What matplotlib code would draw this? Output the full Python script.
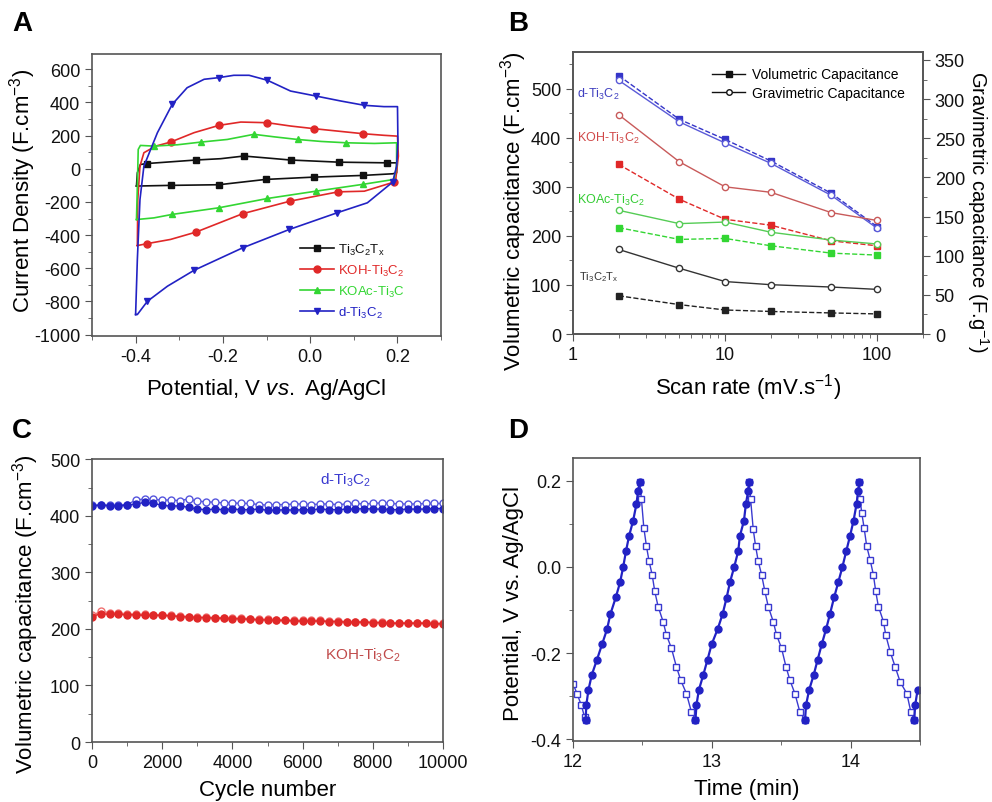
import numpy as np
import matplotlib
matplotlib.use('Agg')
import matplotlib.pyplot as plt

plt.rcParams['font.family'] = ['Liberation Sans', 'DejaVu Sans']
plt.rcParams['mathtext.fontset'] = 'custom'
plt.rcParams['mathtext.rm'] = 'Liberation Sans'
plt.rcParams['mathtext.it'] = 'Liberation Sans:italic'
plt.rcParams['mathtext.default'] = 'regular'
plt.rcParams['axes.unicode_minus'] = False

# ---------- panel A : CV loops (potential V, current density) ----------
cv_black_v = [-0.398, -0.396, -0.389, -0.373, -0.262, -0.205, -0.152, -0.098, -0.045, 0.066, 0.177, 0.198,
              0.198, 0.189, 0.120, 0.009, -0.102, -0.209, -0.320, -0.398]
cv_black_i = [-104, -24, 26, 32, 53, 61, 77, 65, 53, 40, 36, 36,
              -24, -30, -40, -50, -64, -96, -100, -104]
cv_black_mk = [3, 4, 6, 8, 9, 10, 14, 15, 16, 17, 18]

cv_red_v = [-0.396, -0.395, -0.390, -0.381, -0.354, -0.320, -0.266, -0.209, -0.159, -0.098, -0.045, 0.009,
            0.120, 0.169, 0.200, 0.202, 0.196, 0.192, 0.124, 0.064, -0.046, -0.155, -0.262, -0.320, -0.373, -0.396]
cv_red_i = [-463, -185, 16, 97, 137, 161, 218, 262, 282, 278, 258, 242,
            212, 202, 197, 77, -64, -80, -135, -139, -195, -271, -382, -426, -451, -463]
cv_red_mk = [5, 7, 9, 11, 12, 17, 19, 20, 21, 22, 24]

cv_green_v = [-0.398, -0.396, -0.394, -0.389, -0.358, -0.304, -0.251, -0.190, -0.129, -0.083, -0.029, 0.025,
              0.082, 0.147, 0.198, 0.198, 0.192, 0.120, 0.013, -0.098, -0.209, -0.316, -0.358, -0.398]
cv_green_i = [-306, -104, 117, 141, 137, 145, 161, 177, 208, 193, 177, 165,
              157, 153, 157, 16, -64, -94, -135, -179, -235, -275, -296, -306]
cv_green_mk = [4, 6, 8, 10, 12, 17, 18, 19, 20, 21]

cv_blue_v = [-0.400, -0.396, -0.390, -0.381, -0.350, -0.316, -0.282, -0.243, -0.209, -0.175, -0.140, -0.098,
             -0.045, 0.013, 0.070, 0.124, 0.169, 0.200, 0.201, 0.198, 0.189, 0.131, 0.062, -0.048, -0.155,
             -0.266, -0.327, -0.373, -0.396, -0.400]
cv_blue_i = [-879, -547, -185, 16, 218, 389, 489, 540, 550, 564, 564, 534,
             469, 439, 409, 383, 375, 375, 157, 16, -80, -205, -265, -366, -477,
             -612, -708, -799, -879, -879]
cv_blue_mk = [5, 8, 11, 13, 15, 20, 22, 23, 24, 25, 27]

# ---------- panel B : capacitance vs scan rate ----------
scan_rate = [2, 5, 10, 20, 50, 100]
vol_d = [527, 438, 397, 353, 287, 219]
vol_koh = [346, 275, 234, 222, 190, 180]
vol_koac = [217, 193, 195, 180, 165, 161]
vol_tx = [78, 60, 49, 46, 43, 41]
grav_d = [324, 271, 244, 218, 177, 135]
grav_koh = [280, 220, 188, 181, 155, 145]
grav_koac = [158, 141, 143, 130, 120, 115]
grav_tx = [108, 84, 67, 63, 60, 57]

# ---------- panel C : cycling ----------
cycles = [0, 250, 500, 750, 1000, 1250, 1500, 1750, 2000, 2250, 2500, 2750, 3000, 3250, 3500, 3750,
          4000, 4250, 4500, 4750, 5000, 5250, 5500, 5750, 6000, 6250, 6500, 6750, 7000, 7250, 7500,
          7750, 8000, 8250, 8500, 8750, 9000, 9250, 9500, 9750, 10000]
cyc_d_fill = [418, 419, 418, 418, 419, 421, 424, 422, 419, 417, 418, 415, 412, 411, 412, 411,
              412, 411, 411, 412, 410, 410, 411, 410, 411, 411, 412, 411, 411, 412, 412,
              413, 412, 412, 411, 411, 412, 412, 412, 413, 413]
cyc_d_open = [419, 419, 419, 419, 420, 428, 430, 429, 428, 428, 427, 430, 426, 425, 424, 423,
              423, 422, 422, 420, 419, 420, 420, 421, 421, 420, 421, 421, 420, 421, 422,
              421, 422, 423, 422, 421, 421, 421, 422, 422, 422]
cyc_koh_fill = [222, 227, 226, 226, 225, 225, 224, 224, 224, 223, 222, 221, 220, 220, 219, 219,
                218, 218, 217, 216, 216, 215, 215, 214, 214, 214, 214, 213, 213, 212, 212,
                212, 211, 211, 210, 210, 210, 210, 210, 209, 209]
cyc_koh_open = [224, 231, 229, 228, 227, 226, 226, 225, 225, 224, 223, 222, 221, 221, 220, 220,
                219, 219, 218, 217, 217, 216, 216, 215, 215, 215, 215, 214, 214, 213, 213,
                213, 212, 212, 211, 211, 211, 211, 211, 210, 210]

# ---------- panel D : galvanostatic charge / discharge ----------
chg_t = [12.091, 12.096, 12.111, 12.135, 12.173, 12.209, 12.245, 12.269, 12.308, 12.339, 12.361, 12.382,
         12.404, 12.433, 12.457, 12.469, 12.481, np.nan,
         12.882, 12.889, 12.906, 12.938, 12.969, 12.998, 13.041, 13.077, 13.106, 13.130, 13.161, 13.190,
         13.202, 13.231, 13.245, 13.262, 13.266, np.nan,
         13.671, 13.678, 13.700, 13.733, 13.762, 13.791, 13.822, 13.850, 13.880, 13.910, 13.940, 13.968,
         13.995, 14.020, 14.042, 14.053, 14.061, np.nan,
         14.457, 14.464, 14.481]
chg_v = [-0.355, -0.321, -0.286, -0.251, -0.215, -0.180, -0.145, -0.110, -0.071, -0.036, -0.001, 0.037,
         0.072, 0.107, 0.146, 0.177, 0.196, np.nan,
         -0.355, -0.321, -0.286, -0.251, -0.215, -0.180, -0.145, -0.110, -0.072, -0.036, 0.000, 0.037,
         0.072, 0.107, 0.146, 0.177, 0.196, np.nan,
         -0.355, -0.321, -0.286, -0.251, -0.215, -0.180, -0.145, -0.110, -0.071, -0.036, 0.000, 0.037,
         0.072, 0.107, 0.146, 0.177, 0.196, np.nan,
         -0.355, -0.321, -0.286]
dis_t = [12.000, 12.029, 12.060, 12.084, 12.091, np.nan,
         12.481, 12.493, 12.510, 12.529, 12.548, 12.570, 12.589, 12.613, 12.649, 12.673, 12.709, 12.745,
         12.776, 12.817, 12.853, 12.882, np.nan,
         13.269, 13.279, 13.298, 13.315, 13.334, 13.358, 13.382, 13.406, 13.442, 13.466, 13.502, 13.534,
         13.562, 13.598, 13.634, 13.671, np.nan,
         14.063, 14.067, 14.079, 14.096, 14.115, 14.139, 14.163, 14.180, 14.199, 14.236, 14.252, 14.284,
         14.320, 14.356, 14.404, 14.433, 14.457]
dis_v = [-0.271, -0.294, -0.321, -0.349, -0.355, np.nan,
         0.196, 0.157, 0.091, 0.048, 0.013, -0.018, -0.057, -0.092, -0.127, -0.158, -0.189, -0.232,
         -0.263, -0.294, -0.337, -0.355, np.nan,
         0.196, 0.157, 0.087, 0.048, 0.013, -0.018, -0.057, -0.092, -0.127, -0.158, -0.189, -0.232,
         -0.263, -0.294, -0.337, -0.355, np.nan,
         0.196, 0.157, 0.126, 0.091, 0.048, 0.017, -0.018, -0.057, -0.092, -0.127, -0.158, -0.197,
         -0.232, -0.267, -0.294, -0.337, -0.355]

BLACK = '#111111'
RED = '#e02828'
GREEN = '#33d633'
BLUE = '#2222c4'
SPINE = '#555555'
TICK_FS = 13
LAB_FS = 16


def style(ax):
    for s in ax.spines.values():
        s.set_color(SPINE)
        s.set_linewidth(1.2)
    ax.tick_params(which='both', direction='out', colors=SPINE, labelcolor='#111111',
                   labelsize=TICK_FS)
    ax.tick_params(which='major', length=5)
    ax.tick_params(which='minor', length=3)


def place_ylabel(ax, x, y=0.5):
    # label centred at (x, y) in axes fraction
    ax.yaxis.set_label_coords(x, y)
    ax.yaxis.label.set_va('center')
    ax.yaxis.label.set_ha('center')


fig = plt.figure(figsize=(9.92, 8.03), dpi=100)

# ---------------- A ----------------
axA = fig.add_axes([0.0927, 0.580, 0.352, 0.351])
curves = [
    (cv_black_v, cv_black_i, cv_black_mk, BLACK, 's', 'Ti$_3$C$_2$T$_x$'),
    (cv_red_v, cv_red_i, cv_red_mk, RED, 'o', 'KOH-Ti$_3$C$_2$'),
    (cv_green_v, cv_green_i, cv_green_mk, GREEN, '^', 'KOAc-Ti$_3$C'),
    (cv_blue_v, cv_blue_i, cv_blue_mk, BLUE, 'v', 'd-Ti$_3$C$_2$'),
]
for v, i, mk, col, m, lab in curves:
    axA.plot(v, i, color=col, lw=1.2, marker=m, markevery=mk, ms=5, label=lab)
axA.set_xlim(-0.5, 0.3)
axA.set_ylim(-1010, 690)
axA.set_xticks([-0.4, -0.2, 0.0, 0.2])
axA.set_xticks([-0.5, -0.3, -0.1, 0.1, 0.3], minor=True)
axA.set_yticks(range(-1000, 601, 200))
axA.set_yticks(range(-900, 700, 200), minor=True)
axA.xaxis.set_major_formatter(matplotlib.ticker.FormatStrFormatter('%.1f'))
style(axA)
axA.set_xlabel('Potential, V $\\mathit{vs.}$ Ag/AgCl', fontsize=LAB_FS, labelpad=8)
axA.set_ylabel('Current Density (F.cm$^{-3}$)', fontsize=LAB_FS)
place_ylabel(axA, -0.198, 0.52)
legA = axA.legend(loc='lower right', bbox_to_anchor=(0.93, 0.015), frameon=False, fontsize=9.5,
                  handlelength=2.6, labelspacing=0.45, handletextpad=0.3)
for t, c in zip(legA.get_texts(), [BLACK, RED, GREEN, BLUE]):
    t.set_color(c)

# ---------------- B ----------------
axB = fig.add_axes([0.5776, 0.5828, 0.3528, 0.351])
axB2 = axB.twinx()
b_series = [
    (vol_d, grav_d, '#3535c8', '#5a5ad8'),
    (vol_koh, grav_koh, '#e02828', '#c85a5a'),
    (vol_koac, grav_koac, '#33d633', '#55cc55'),
    (vol_tx, grav_tx, '#222222', '#333333'),
]
for vol, grav, cf, co in b_series:
    axB.plot(scan_rate, vol, color=cf, lw=1.0, ls='--', marker='s', ms=5)
    axB2.plot(scan_rate, grav, color=co, lw=1.0, marker='o', ms=4.5, mfc='white')
axB.set_xscale('log')
axB.set_xlim(1, 200)
axB.set_ylim(0, 575)
axB2.set_ylim(0, 360)
axB.set_xticks([1, 10, 100])
axB.set_xticklabels(['1', '10', '100'])
axB.set_yticks(range(0, 501, 100))
axB.set_yticks(range(50, 551, 100), minor=True)
axB2.set_yticks(range(0, 351, 50))
axB2.set_yticks(range(25, 351, 50), minor=True)
style(axB)
style(axB2)
axB.set_xlabel('Scan rate (mV.s$^{-1}$)', fontsize=LAB_FS, labelpad=6)
axB.set_ylabel('Volumetric capacitance (F.cm$^{-3}$)', fontsize=LAB_FS)
place_ylabel(axB, -0.17, 0.44)
axB2.set_ylabel('Gravimetric capacitance (F.g$^{-1}$)', fontsize=14.5, rotation=270)
place_ylabel(axB2, 1.158, 0.437)
axB.text(1.07, 490, 'd-Ti$_3$C$_2$', color='#4040c0', fontsize=9, va='center')
axB.text(1.07, 400, 'KOH-Ti$_3$C$_2$', color='#d04848', fontsize=9, va='center')
axB.text(1.07, 275, 'KOAc-Ti$_3$C$_2$', color='#33cc33', fontsize=9, va='center')
axB.text(1.1, 118, 'Ti$_3$C$_2$T$_x$', color='#333333', fontsize=8, va='center')
hv, = axB.plot([], [], color='#111111', lw=1.0, marker='s', ms=4)
hg, = axB.plot([], [], color='#111111', lw=1.0, marker='o', ms=4, mfc='white')
axB.legend([hv, hg], ['Volumetric Capacitance', 'Gravimetric Capacitance'], loc='upper right',
           bbox_to_anchor=(0.985, 0.99), frameon=False, fontsize=10, handlelength=2.4,
           labelspacing=0.35, handletextpad=0.5)

# ---------------- C ----------------
axC = fig.add_axes([0.0927, 0.0747, 0.354, 0.352])
axC.plot(cycles, cyc_d_open, color='#5555dd', lw=1.0, marker='o', ms=5, mfc='white', mew=1.0)
axC.plot(cycles, cyc_d_fill, color=BLUE, lw=1.0, marker='o', ms=5)
axC.plot(cycles, cyc_koh_open, color='#f07070', lw=1.0, marker='o', ms=5, mfc='white', mew=1.0)
axC.plot(cycles, cyc_koh_fill, color=RED, lw=1.0, marker='o', ms=5)
axC.set_xlim(0, 10000)
axC.set_ylim(0, 500)
axC.set_xticks(range(0, 10001, 2000))
axC.set_xticks(range(1000, 10000, 2000), minor=True)
axC.set_yticks(range(0, 501, 100))
axC.set_yticks(range(50, 500, 100), minor=True)
style(axC)
axC.set_xlabel('Cycle number', fontsize=LAB_FS, labelpad=6)
axC.set_ylabel('Volumetric capacitance (F.cm$^{-3}$)', fontsize=LAB_FS)
place_ylabel(axC, -0.19, 0.455)
axC.text(6500, 465, 'd-Ti$_3$C$_2$', color='#3a3ad0', fontsize=11, va='center')
axC.text(6650, 155, 'KOH-Ti$_3$C$_2$', color='#c04a4a', fontsize=11, va='center')

# ---------------- D ----------------
axD = fig.add_axes([0.5776, 0.076, 0.35, 0.352])
axD.plot(dis_t, dis_v, color='#3a3ad0', lw=1.0, marker='s', ms=4, mfc='white', mew=1.0)
axD.plot(chg_t, chg_v, color=BLUE, lw=1.6, marker='o', ms=5)
axD.set_xlim(12, 14.5)
axD.set_ylim(-0.404, 0.252)
axD.set_xticks([12, 13, 14])
axD.set_xticks([12.5, 13.5, 14.5], minor=True)
axD.set_yticks([-0.4, -0.2, 0.0, 0.2])
axD.set_yticks([-0.3, -0.1, 0.1], minor=True)
axD.yaxis.set_major_formatter(matplotlib.ticker.FormatStrFormatter('%.1f'))
style(axD)
axD.set_xlabel('Time (min)', fontsize=LAB_FS, labelpad=6)
axD.set_ylabel('Potential, V vs. Ag/AgCl', fontsize=LAB_FS)
place_ylabel(axD, -0.17, 0.49)

# panel letters
for x, y, s in [(0.012, 0.97, 'A'), (0.512, 0.97, 'B'), (0.012, 0.463, 'C'), (0.512, 0.463, 'D')]:
    fig.text(x, y, s, fontsize=20, fontweight='bold', va='center')

fig.savefig('out.png', dpi=100)
